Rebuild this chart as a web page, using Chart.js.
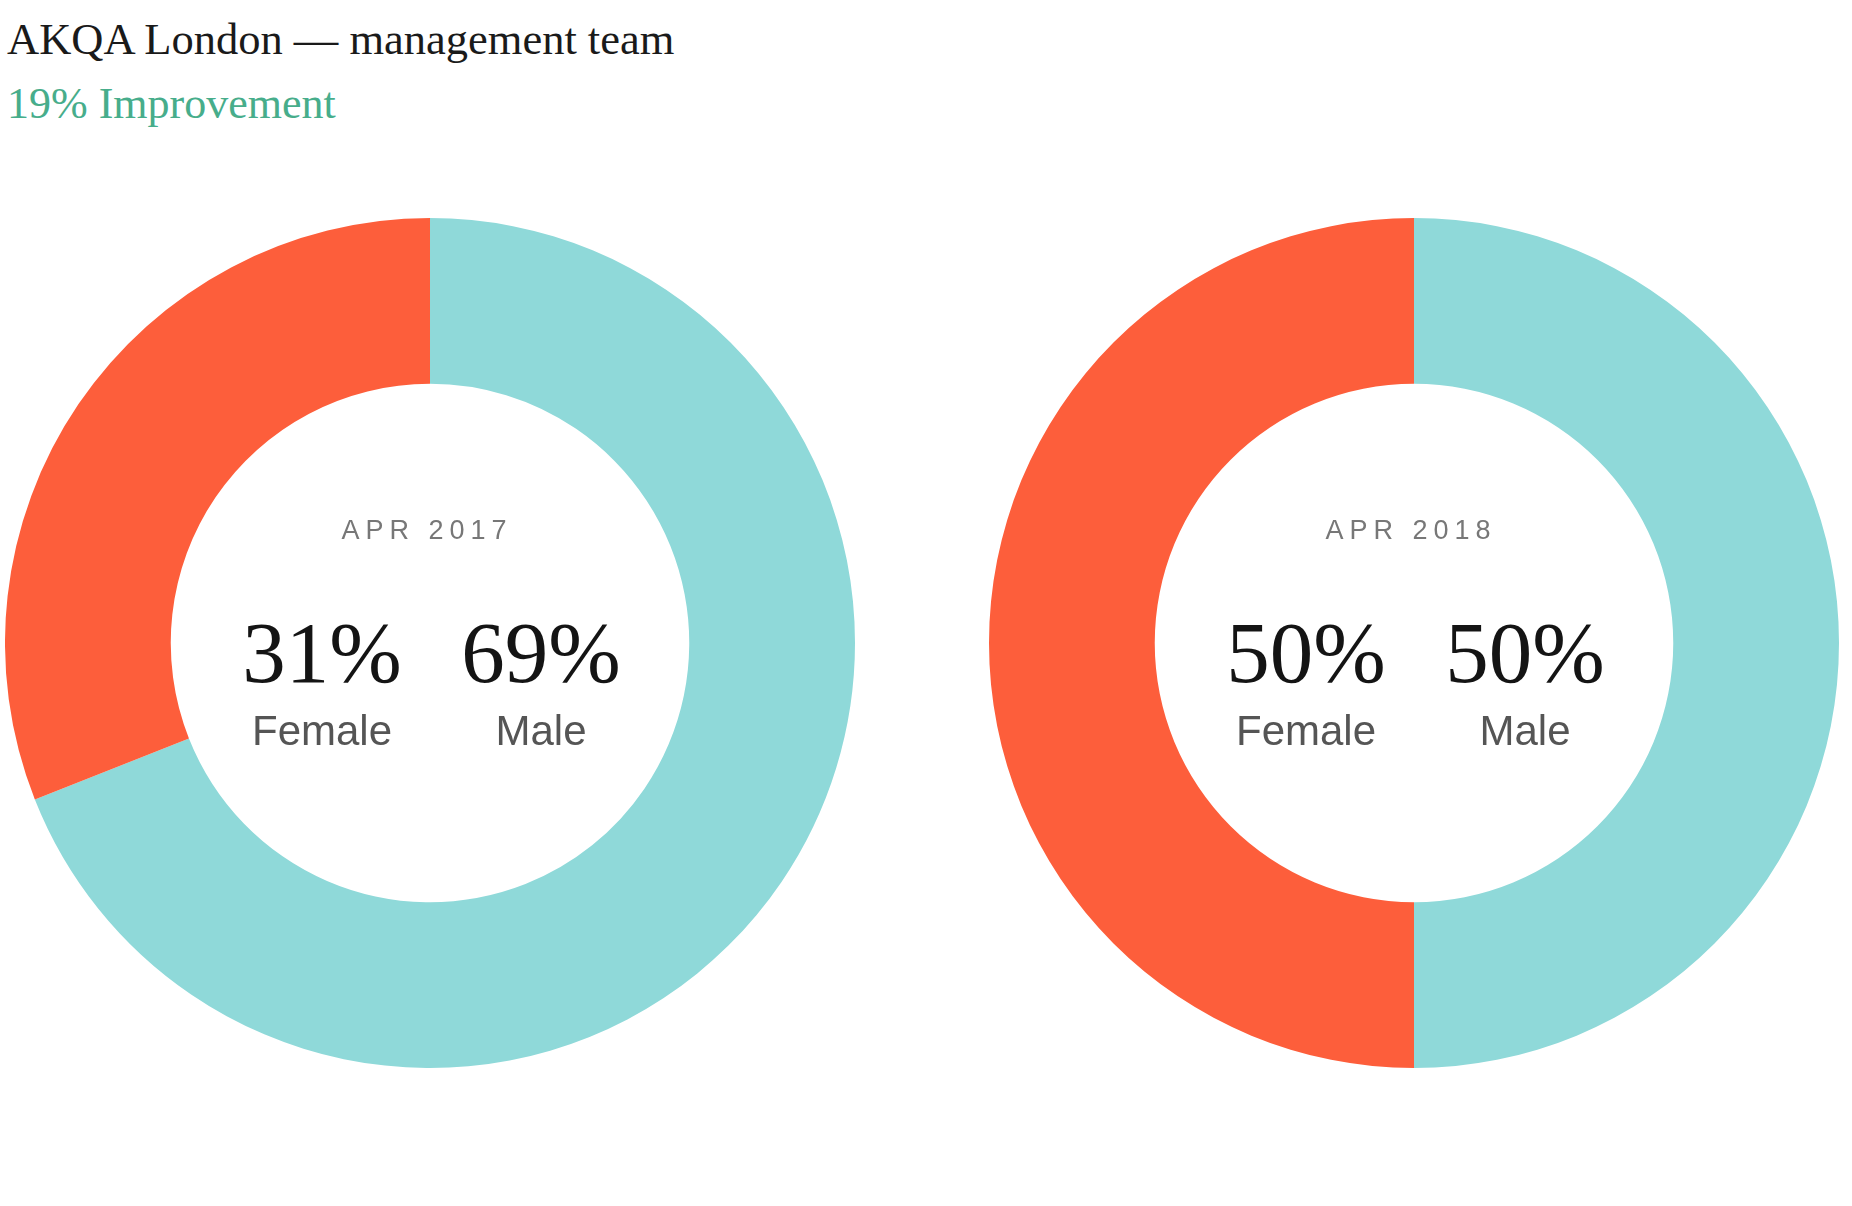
<!DOCTYPE html>
<html>
<head>
<meta charset="utf-8">
<script src="https://cdn.jsdelivr.net/npm/chart.js@4.4.1/dist/chart.umd.min.js"></script>
<style>
  html, body { margin: 0; padding: 0; background: #fff; }
  body { width: 1852px; height: 1206px; position: relative; overflow: hidden; }
  .title { position: absolute; left: 7px; top: 13px; font: 44.5px "Liberation Serif", serif; color: #1a1a1a; white-space: nowrap; }
  .subtitle { position: absolute; left: 7px; top: 78px; font: 44px "Liberation Serif", serif; color: #47ad8b; white-space: nowrap; }
  .donut { position: absolute; top: 218px; width: 850px; height: 850px; }
</style>
</head>
<body>
<div class="title">AKQA London — management team</div>
<div class="subtitle">19% Improvement</div>
<div class="donut" style="left:5px"><canvas id="chart2017"></canvas></div>
<div class="donut" style="left:989px"><canvas id="chart2018"></canvas></div>

<script>
// data
const periods = ['APR 2017', 'APR 2018'];
const genders = ['Male', 'Female'];
const maleShare = [69, 50];
const femaleShare = [31, 50];
const genderColors = ['#8fd9d9', '#fd5e3b'];

// --- center labels ---
const centerText = {
    id: 'centerText',
    afterDraw(chart, args, opts) {
        const { ctx, chartArea } = chart;
        const cx = (chartArea.left + chartArea.right) / 2;
        const cy = (chartArea.top + chartArea.bottom) / 2;
        ctx.save();
        ctx.textAlign = 'center';
        ctx.textBaseline = 'alphabetic';

        ctx.fillStyle = '#777';
        ctx.font = '27px "Liberation Sans", sans-serif';
        ctx.letterSpacing = '6px';
        ctx.fillText(opts.period, cx - 3, cy - 104);
        ctx.letterSpacing = '0px';

        const cols = [
            { dx: -108, pct: opts.female, name: 'Female' },
            { dx: 111, pct: opts.male, name: 'Male' }
        ];
        for (const c of cols) {
            ctx.fillStyle = '#141414';
            ctx.font = '87px "Liberation Serif", serif';
            ctx.fillText(c.pct + '%', cx + c.dx, cy + 39);
            ctx.fillStyle = '#555';
            ctx.font = '42px "Liberation Sans", sans-serif';
            ctx.fillText(c.name, cx + c.dx, cy + 102);
        }
        ctx.restore();
    }
};

function buildDonut(canvasId, i) {
    new Chart(document.getElementById(canvasId), {
        type: 'doughnut',
        data: {
            labels: genders,
            datasets: [{
                data: [maleShare[i], femaleShare[i]],
                backgroundColor: genderColors,
                borderWidth: 0
            }]
        },
        options: {
            responsive: true,
            maintainAspectRatio: false,
            animation: false,
            cutout: '61%',
            layout: { padding: 0 },
            plugins: {
                legend: { display: false },
                tooltip: { enabled: false },
                centerText: { period: periods[i], female: femaleShare[i], male: maleShare[i] }
            }
        },
        plugins: [centerText]
    });
}

buildDonut('chart2017', 0);
buildDonut('chart2018', 1);
</script>
</body>
</html>
